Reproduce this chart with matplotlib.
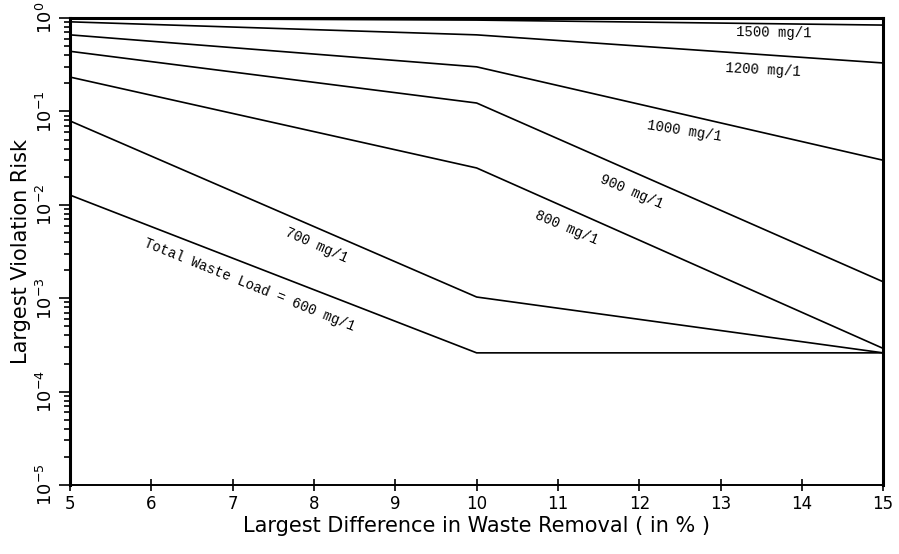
import matplotlib
matplotlib.use("Agg")
import matplotlib.pyplot as plt
from matplotlib.ticker import LogLocator, NullFormatter

x_pts = [5, 10, 15]

# largest violation risk for each total waste load (mg/1)
risk_1500 = [0.99, 0.95, 0.84]
risk_1200 = [0.91, 0.66, 0.33]
risk_1000 = [0.66, 0.30, 0.030]
risk_900 = [0.44, 0.123, 0.0015]
risk_800 = [0.233, 0.0248, 0.00029]
risk_700 = [0.079, 0.00103, 0.00026]
risk_600 = [0.0127, 0.00026, 0.00026]

curves = [risk_1500, risk_1200, risk_1000, risk_900, risk_800, risk_700, risk_600]

labels = ["1500 mg/1", "1200 mg/1", "1000 mg/1", "900 mg/1", "800 mg/1",
          "700 mg/1", "Total Waste Load = 600 mg/1"]
label_x = [13.65, 13.52, 12.56, 11.9, 11.11, 8.03, 7.2]
label_y = [0.69, 0.277, 0.0617, 0.0137, 0.00565, 0.00371, 0.00139]
label_rot = [-1, -3, -9, -23, -23, -24, -22]

x_ticks = list(range(5, 16))
y_ticks = [1e-5, 1e-4, 1e-3, 1e-2, 1e-1, 1e0]
y_ticklabels = [r'$10^{-5}$', r'$10^{-4}$', r'$10^{-3}$', r'$10^{-2}$',
                r'$10^{-1}$', r'$10^{0}$']

fig = plt.figure(figsize=(8.99, 5.54), dpi=100)
ax = fig.add_axes([0.078, 0.1245, 0.9044, 0.843])

for ys in curves:
    ax.plot(x_pts, ys, color='black', lw=1.2)

for txt, lx, ly, rot in zip(labels, label_x, label_y, label_rot):
    ax.text(lx, ly, txt, rotation=rot, ha='center', va='center',
            family='Liberation Mono', fontsize=10, rotation_mode='anchor')

ax.set_yscale('log')
ax.set_xlim(5, 15)
ax.set_ylim(1e-5, 1e0)
ax.set_xticks(x_ticks)
ax.set_yticks(y_ticks, y_ticklabels)
ax.yaxis.set_minor_locator(LogLocator(base=10, subs=range(2, 10), numticks=20))
ax.yaxis.set_minor_formatter(NullFormatter())

ax.tick_params(axis='y', which='major', direction='out', length=8, width=1.2,
               labelsize=13, pad=2)
ax.tick_params(axis='y', which='minor', direction='out', length=4, width=1.2)
ax.tick_params(axis='x', which='major', direction='inout', length=9, width=1.2,
               labelsize=12, pad=3)
for lab in ax.get_yticklabels():
    lab.set_rotation(90)
    lab.set_va('center')
    lab.set_ha('right')

for side in ['left', 'right', 'top']:
    ax.spines[side].set_linewidth(2.2)
ax.spines['bottom'].set_linewidth(1.4)

ax.set_xlabel("Largest Difference in Waste Removal ( in % )", fontsize=15, labelpad=2)
ax.set_ylabel("Largest Violation Risk", fontsize=15, labelpad=4)

fig.savefig("out.png", dpi=100)
